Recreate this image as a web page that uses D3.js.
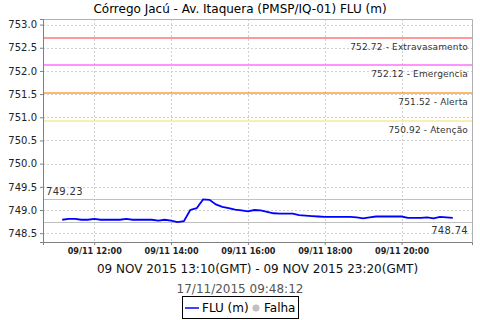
<!DOCTYPE html>
<html><head><meta charset="utf-8">
<script src="https://cdn.jsdelivr.net/npm/d3@7"></script>
<style>body{margin:0;background:#fff}svg{display:block}</style>
</head><body><svg id="c" width="480" height="320"></svg>
<script>
const title = "Córrego Jacú - Av. Itaquera (PMSP/IQ-01) FLU (m)";
const axisLabel = "09 NOV 2015 13:10(GMT) - 09 NOV 2015 23:20(GMT)";
const subtitle = "17/11/2015 09:48:12";
const startTime = "2015-11-09T11:10";   // local time of first reading
const stepMinutes = 10;
const levels = [748.79,748.81,748.81,748.79,748.79,748.81,748.79,748.79,748.79,748.79,
  748.81,748.79,748.79,748.79,748.79,748.77,748.79,748.77,748.74,748.76,
  749.00,749.04,749.23,749.22,749.12,749.07,749.04,749.01,748.99,748.97,
  749.00,748.99,748.96,748.93,748.92,748.92,748.92,748.89,748.88,748.87,
  748.86,748.85,748.85,748.85,748.85,748.85,748.84,748.82,748.84,748.86,
  748.86,748.86,748.86,748.86,748.83,748.83,748.83,748.84,748.82,748.85,
  748.84,748.83];
const thresholdValues = [752.72, 752.12, 751.52, 750.92];
const thresholdNames = ["Extravasamento", "Emergencia", "Alerta", "Atenção"];
const thresholdColors = ["#ff7878", "#ff70ff", "#ffa040", "#f8ea90"];
const yTicks = [748.5, 749.0, 749.5, 750.0, 750.5, 751.0, 751.5, 752.0, 752.5, 753.0];
const xTickTimes = ["2015-11-09T12:00","2015-11-09T14:00","2015-11-09T16:00","2015-11-09T18:00","2015-11-09T20:00"];
const xDomain = ["2015-11-09T10:40", "2015-11-09T21:50"];
const yDomain = [748.31, 753.12];

const parse = d3.timeParse("%Y-%m-%dT%H:%M");
const t0 = parse(startTime);
const data = levels.map((v,i)=>({t:new Date(t0.getTime()+i*stepMinutes*60000), v}));
const maxV = d3.max(levels), minV = d3.min(levels);

const svg = d3.select("#c");
const L=43, R=472, T=19, B=242;
const x = d3.scaleTime().domain(xDomain.map(parse)).range([L,R]);
const y = d3.scaleLinear().domain(yDomain).range([B,T]);
const font = "DejaVu Sans, sans-serif";
const py = v => Math.round(y(v)) + 0.5;

// title
svg.append("text").attr("x",240).attr("y",13).attr("text-anchor","middle")
  .attr("font-family",font).attr("font-size",12).attr("fill","#000").text(title);

// gridlines
const g = svg.append("g");
g.selectAll(".gy").data(yTicks).join("line")
  .attr("x1",L).attr("x2",R).attr("y1",d=>py(d)).attr("y2",d=>py(d))
  .attr("stroke","#d0d0d0").attr("stroke-dasharray","2,2").attr("stroke-width",1);
g.selectAll(".gx").data(xTickTimes.map(parse)).join("line")
  .attr("x1",d=>Math.round(x(d))+0.5).attr("x2",d=>Math.round(x(d))+0.5).attr("y1",T).attr("y2",B)
  .attr("stroke","#d0d0d0").attr("stroke-dasharray","2,2").attr("stroke-width",1);

// border top/right
svg.append("path").attr("d",`M${L},${T+0.5}H${R+0.5}V${B}`)
  .attr("fill","none").attr("stroke","#b0b0b0");

// thresholds
thresholdValues.forEach((v,i)=>{
  svg.append("line").attr("x1",L).attr("x2",R).attr("y1",Math.round(y(v))).attr("y2",Math.round(y(v)))
    .attr("stroke",thresholdColors[i]).attr("stroke-width",1.4);
  svg.append("text").attr("x",468).attr("y",y(v)+12).attr("text-anchor","end")
    .attr("font-family",font).attr("font-size",9).attr("letter-spacing",0.15)
    .attr("fill","#333").text(`${v.toFixed(2)} - ${thresholdNames[i]}`);
});

// max / min markers
[maxV, minV].forEach((v,i)=>{
  svg.append("line").attr("x1",L).attr("x2",R).attr("y1",py(v)).attr("y2",py(v))
    .attr("stroke","#c0c0c0").attr("stroke-width",1);
  svg.append("text").attr("x", i===0?46:468).attr("y", i===0?y(v)-4:y(v)+12)
    .attr("text-anchor", i===0?"start":"end")
    .attr("font-family",font).attr("font-size",10).attr("letter-spacing",0.3)
    .attr("fill","#333").text(v.toFixed(2));
});

// axes
const ya = d3.axisLeft(y).tickValues(yTicks).tickFormat(d3.format(".1f")).tickSize(3).tickPadding(3);
const yg = svg.append("g").attr("transform",`translate(${L},0)`).call(ya);
yg.select(".domain").attr("stroke","#808080");
yg.selectAll(".tick line").attr("stroke","#808080");
yg.selectAll("text").attr("font-family",font).attr("font-size",10).attr("fill","#222");

const xa = d3.axisBottom(x).tickValues(xTickTimes.map(parse)).tickFormat(d3.timeFormat("%d/%m %H:%M")).tickSize(3).tickPadding(3);
const xg = svg.append("g").attr("transform",`translate(0,${B})`).call(xa);
xg.select(".domain").attr("stroke","#808080");
xg.selectAll(".tick line").attr("stroke","#808080");
xg.selectAll("text").attr("font-family","DejaVu Sans Condensed, DejaVu Sans, sans-serif")
  .attr("font-weight","bold").attr("font-size",9).attr("fill","#222");

// line
svg.append("path").datum(data)
  .attr("d", d3.line().x(d=>x(d.t)).y(d=>y(d.v)))
  .attr("fill","none").attr("stroke","#0000ff").attr("stroke-width",1.8);

// axis label and subtitle
svg.append("text").attr("x",(L+R)/2).attr("y",273).attr("text-anchor","middle")
  .attr("font-family",font).attr("font-size",12).attr("fill","#111").text(axisLabel);
svg.append("text").attr("x",240).attr("y",293).attr("text-anchor","middle")
  .attr("font-family",font).attr("font-size",12).attr("fill","#555").text(subtitle);

// legend
const lg = svg.append("g");
lg.append("rect").attr("x",182.5).attr("y",296.5).attr("width",116).attr("height",22)
  .attr("fill","#fff").attr("stroke","#000");
lg.append("line").attr("x1",185).attr("x2",199).attr("y1",308).attr("y2",308)
  .attr("stroke","#0000ff").attr("stroke-width",1.5);
lg.append("text").attr("x",202).attr("y",312).attr("font-family",font).attr("font-size",12).text("FLU (m)");
lg.append("circle").attr("cx",256).attr("cy",308).attr("r",3.5).attr("fill","#c0c0c0");
lg.append("text").attr("x",264).attr("y",312).attr("font-family",font).attr("font-size",12).text("Falha");
</script></body></html>
